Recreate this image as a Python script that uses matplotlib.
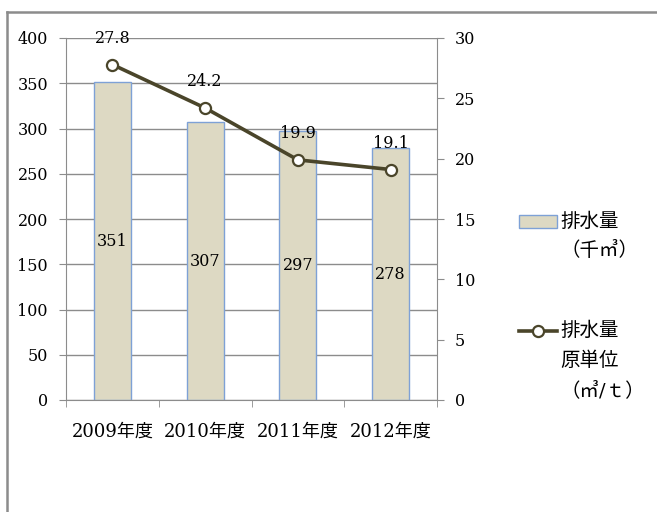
"""Wastewater volume (bars) and wastewater per unit (line) by fiscal year"""

import numpy as np
import matplotlib
matplotlib.use('Agg')
from matplotlib import pyplot as plt
from matplotlib.patches import Rectangle
from matplotlib.lines import Line2D

plt.rcParams['font.family'] = ['DejaVu Serif', 'Noto Sans CJK JP']

years = ['2009年度', '2010年度', '2011年度', '2012年度']
volume = [351, 307, 297, 278]          # 排水量 (千㎥)
unit_volume = [27.8, 24.2, 19.9, 19.1]  # 排水量原単位 (㎥/t)

bar_face = '#ddd9c3'
bar_edge = '#7ea1d6'
line_col = '#4a452a'
axis_col = '#8c8c8c'
fs = 11.5      # numbers
fs_cjk = 13    # category labels
fs_leg = 14    # legend

fig = plt.figure(figsize=(6.57, 5.12), dpi=100)
ax = fig.add_axes([66 / 657, 1 - 400 / 512, (437 - 66) / 657, (400 - 38) / 512])
ax2 = ax.twinx()

x = np.arange(len(years))
bars = ax.bar(x, volume, width=0.4, color=bar_face, edgecolor=bar_edge, linewidth=1, zorder=2)
ax.bar_label(bars, labels=[str(v) for v in volume], label_type='center', fontsize=fs)

ax.set_xlim(-0.5, len(years) - 0.5)
ax.set_ylim(0, 400)
ax.set_yticks(np.arange(0, 401, 50))
ax.yaxis.grid(True, color=axis_col, linewidth=1)
ax.set_axisbelow(True)
ax.set_xticks(x)
ax.set_xticklabels(years, fontsize=fs_cjk)
ax.set_xticks(np.arange(-0.5, len(years), 1), minor=True)
ax.tick_params(axis='x', which='major', length=0, pad=16)
ax.tick_params(axis='x', which='minor', length=5, color=axis_col, direction='out')
ax.tick_params(axis='y', length=5, color=axis_col, pad=8, labelsize=fs)
for side in ['top', 'right']:
    ax.spines[side].set_visible(False)
for side in ['left', 'bottom']:
    ax.spines[side].set_color(axis_col)

ax2.plot(x, unit_volume, color=line_col, linewidth=2.6, marker='o', markersize=8,
         markerfacecolor='white', markeredgecolor=line_col, markeredgewidth=1.6, zorder=3)
for xi, v in zip(x, unit_volume):
    ax2.annotate(f'{v:.1f}', (xi, v), xytext=(0, 19), textcoords='offset points',
                 ha='center', va='center', fontsize=fs)
ax2.set_ylim(0, 30)
ax2.set_yticks(np.arange(0, 31, 5))
ax2.tick_params(axis='y', length=5, color=axis_col, pad=8, labelsize=fs)
for side in ['top', 'left', 'bottom']:
    ax2.spines[side].set_visible(False)
ax2.spines['right'].set_color(axis_col)

# legend drawn by hand to keep the handles beside the first label line
fig.patches.append(Rectangle((519 / 657, 1 - 228 / 512), 38 / 657, 13 / 512,
                             transform=fig.transFigure, facecolor=bar_face,
                             edgecolor=bar_edge, linewidth=1))
fig.text(560 / 657, 1 - 222 / 512, '排水量', fontsize=fs_leg, va='center')
fig.text(560 / 657, 1 - 250 / 512, '（千㎥）', fontsize=fs_leg, va='center')
fig.lines.append(Line2D([519 / 657, 557 / 657], [1 - 331 / 512] * 2, transform=fig.transFigure,
                        color=line_col, linewidth=2.6))
fig.lines.append(Line2D([538 / 657], [1 - 331 / 512], transform=fig.transFigure,
                        marker='o', markersize=8, markerfacecolor='white',
                        markeredgecolor=line_col, markeredgewidth=1.6))
fig.text(560 / 657, 1 - 331 / 512, '排水量', fontsize=fs_leg, va='center')
fig.text(560 / 657, 1 - 361 / 512, '原単位', fontsize=fs_leg, va='center')
fig.text(560 / 657, 1 - 391 / 512, '（㎥/ｔ）', fontsize=fs_leg, va='center')

# outer frame (only left and top edges are visible in the source)
fig.lines.append(Line2D([7 / 657, 7 / 657], [0, 1 - 12 / 512], transform=fig.transFigure,
                        color='#8c8c8c', linewidth=1.8))
fig.lines.append(Line2D([7 / 657, 1], [1 - 12 / 512] * 2, transform=fig.transFigure,
                        color='#8c8c8c', linewidth=1.8))

fig.savefig('out.png', dpi=100)
